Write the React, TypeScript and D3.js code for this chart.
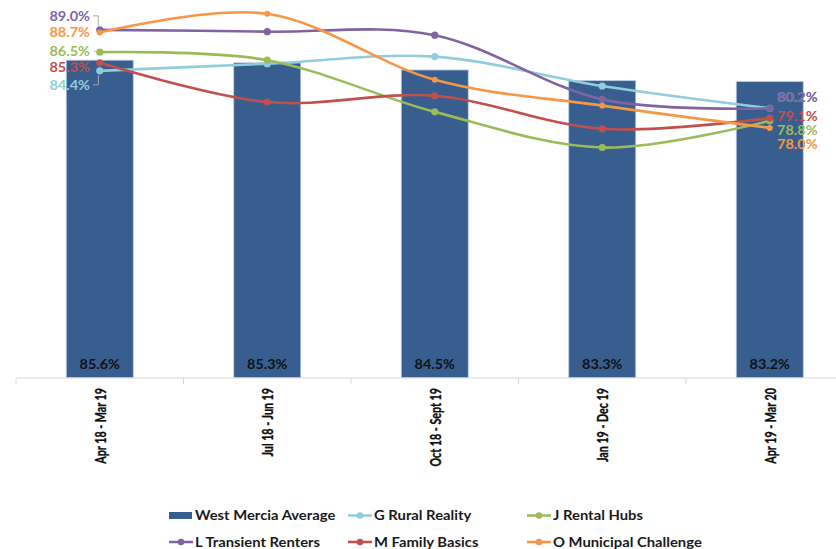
import React from 'react';
import * as d3 from 'd3';

const categories = ['Apr 18 - Mar 19', 'Jul 18 - Jun 19', 'Oct 18 - Sept 19', 'Jan 19 - Dec 19', 'Apr 19 - Mar 20'];
const westMerciaAverage = [85.6, 85.3, 84.5, 83.3, 83.2];
const gRuralReality = [84.4, 85.2, 86.0, 82.7, 80.2];
const jRentalHubs = [86.5, 85.6, 79.8, 75.8, 78.8];
const lTransientRenters = [89.0, 88.8, 88.4, 81.2, 80.2];
const mFamilyBasics = [85.3, 80.9, 81.6, 77.9, 79.1];
const oMunicipalChallenge = [88.7, 90.8, 83.4, 80.5, 78.0];

const barName = 'West Mercia Average';
const lineNames = ['G Rural Reality', 'J Rental Hubs', 'L Transient Renters', 'M Family Basics', 'O Municipal Challenge'];
const lineValues = [gRuralReality, jRentalHubs, lTransientRenters, mFamilyBasics, oMunicipalChallenge];
const lineColors = ['#92CDDC', '#9BBB59', '#8064A2', '#C0504D', '#F79646'];
const markerR = [3.6, 3.6, 3.6, 3.6, 3.0];

// label layout (offsets from the point, px) — first & last point
const leftLabelDy = [14, -1, -14, 4.5, 0];
const leftLeader = ['up', 'short', 'down', 'none', 'none'];
const rightLabelDy = [-11, 9, -11, -2, 16];

const W = 836;
const H = 549;
const FONT = 'Lato, Carlito, "Open Sans", sans-serif';

export default function App() {
  const x = d3.scaleBand<string>().domain(categories).range([16, 853.5]).padding(0);
  const y = d3.scaleLinear().domain([50, 92.35]).range([377.5, 0]);
  const bw = x.bandwidth();
  const barW = bw * 0.4;
  const cx = (c: string) => (x(c) as number) + bw / 2;

  const line = d3
    .line<number>()
    .x((_, i) => cx(categories[i]))
    .y((d) => y(d))
    .curve(d3.curveCardinal.tension(0));

  const axisY = 378;
  const ticks = categories.map((c) => x(c) as number);

  const legendItems = [
    { name: barName, type: 'bar', color: '#375E8F', x: 169, y: 515.5 },
    { name: lineNames[0], type: 'line', color: lineColors[0], x: 348, y: 515.5 },
    { name: lineNames[1], type: 'line', color: lineColors[1], x: 527, y: 515.5 },
    { name: lineNames[2], type: 'line', color: lineColors[2], x: 169, y: 542 },
    { name: lineNames[3], type: 'line', color: lineColors[3], x: 348, y: 542 },
    { name: lineNames[4], type: 'line', color: lineColors[4], x: 527, y: 542 },
  ];

  const x0 = cx(categories[0]);
  const labelEnd = 90;
  const rightStart = 777;

  return (
    <svg width={W} height={H} style={{ position: 'absolute', left: 0, top: 0, background: '#fff' }} fontFamily={FONT}>
      <rect x={0} y={0} width={W} height={H} fill="#fff" />
      {/* axis */}
      <line x1={16} x2={W} y1={axisY} y2={axisY} stroke="#D9D9D9" strokeWidth={1} />
      {ticks.map((t, i) => (
        <line key={i} x1={t} x2={t} y1={axisY} y2={axisY + 6} stroke="#D9D9D9" strokeWidth={1} />
      ))}
      {/* bars */}
      {categories.map((c, i) => (
        <rect
          key={c}
          x={cx(c) - barW / 2}
          y={y(westMerciaAverage[i])}
          width={barW}
          height={y(50) - y(westMerciaAverage[i])}
          fill="#375E8F"
          stroke="#B8CCE4"
          strokeWidth={0.8}
        />
      ))}
      {/* lines */}
      {lineValues.map((vals, s) => (
        <g key={s}>
          <path d={line(vals) || ''} fill="none" stroke={lineColors[s]} strokeWidth={2.6} />
          {vals.map((v, i) => (
            <circle key={i} cx={cx(categories[i])} cy={y(v)} r={markerR[s]} fill={lineColors[s]} />
          ))}
        </g>
      ))}
      {/* leaders */}
      {lineValues.map((vals, s) => {
        const py = y(vals[0]);
        const ly = py + leftLabelDy[s];
        const k = leftLeader[s];
        let d = '';
        if (k === 'down') d = `M${labelEnd + 3},${ly} H${x0 - 1.5} V${py - 4}`;
        else if (k === 'up') d = `M${x0 - 1.5},${py + 4} V${ly} H${labelEnd + 3}`;
        else if (k === 'short') d = `M${labelEnd + 4},${ly} H${x0 - 4}`;
        return d ? <path key={s} d={d} fill="none" stroke="#A6A6A6" strokeWidth={1} /> : null;
      })}
      {/* bar labels */}
      {categories.map((c, i) => (
        <text
          key={c}
          transform={`translate(${cx(c)},364) scale(1.03,1)`}
          textAnchor="middle"
          dy="0.36em"
          fontSize={14}
          fontWeight={700}
          fill="#111"
        >
          {westMerciaAverage[i].toFixed(1)}%
        </text>
      ))}
      {/* left labels */}
      {lineValues.map((vals, s) => (
        <text
          key={'l' + s}
          transform={`translate(${labelEnd},${y(vals[0]) + leftLabelDy[s]}) scale(1.1,1)`}
          textAnchor="end"
          dy="0.36em"
          fontSize={13.2}
          fontWeight={700}
          fill={lineColors[s]}
        >
          {vals[0].toFixed(1)}%
        </text>
      ))}
      {/* right labels */}
      {lineValues.map((vals, s) => (
        <text
          key={'r' + s}
          transform={`translate(${rightStart},${y(vals[vals.length - 1]) + rightLabelDy[s]}) scale(1.1,1)`}
          textAnchor="start"
          dy="0.36em"
          fontSize={13.2}
          fontWeight={700}
          fill={lineColors[s]}
        >
          {vals[vals.length - 1].toFixed(1)}%
        </text>
      ))}
      {/* x labels */}
      {categories.map((c) => (
        <text
          key={c}
          transform={`translate(${cx(c) + 6},388) rotate(-90) scale(0.715,1)`}
          textAnchor="end"
          fontSize={15}
          fontWeight={700}
          fill="#0D0D0D"
          stroke="#0D0D0D"
          strokeWidth={0.35}
        >
          {c}
        </text>
      ))}
      {/* legend */}
      {legendItems.map((it, i) => (
        <g key={i}>
          {it.type === 'bar' ? (
            <rect x={it.x} y={it.y - 3.5} width={23} height={7} fill={it.color} />
          ) : (
            <g>
              <line x1={it.x} x2={it.x + 24} y1={it.y} y2={it.y} stroke={it.color} strokeWidth={2.5} />
              <circle cx={it.x + 12} cy={it.y} r={3.3} fill={it.color} />
            </g>
          )}
          <text
            transform={`translate(${it.x + 26},${it.y}) scale(1.14,1)`}
            dy="0.36em"
            fontSize={13}
            fontWeight={700}
            fill="#1A1A1A"
          >
            {it.name}
          </text>
        </g>
      ))}
    </svg>
  );
}
